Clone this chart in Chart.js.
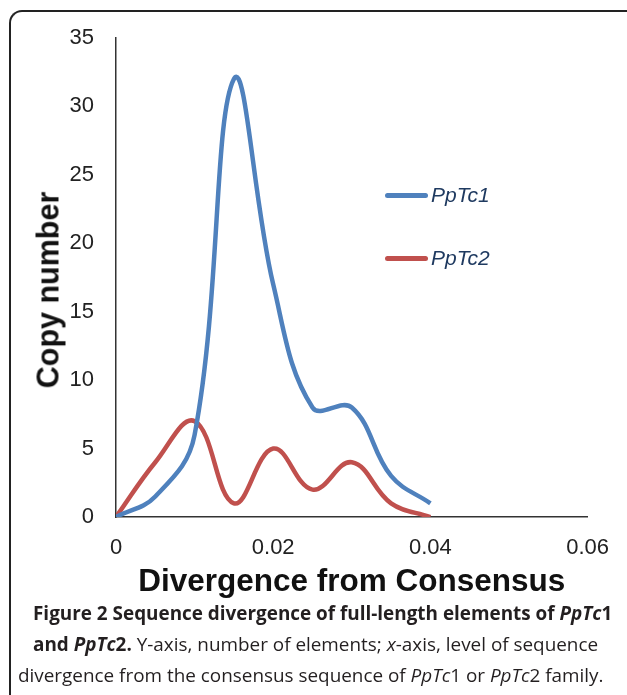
<!DOCTYPE html>
<html>
<head>
<meta charset="utf-8">
<script src="https://cdn.jsdelivr.net/npm/chart.js@4.4.1/dist/chart.umd.min.js"></script>
<style>
  html, body { margin: 0; padding: 0; background: #fff; }
  body { width: 627px; height: 695px; position: relative; overflow: hidden; }
  .frame {
    position: absolute; left: 9px; top: 10px; width: 700px; height: 720px;
    border-left: 2px solid #222; border-top: 2px solid #222;
    border-top-left-radius: 13px;
  }
  #chart { position: absolute; left: 0; top: 0; }
  .y-title {
    position: absolute; left: 48px; top: 290px; white-space: nowrap;
    transform: translate(-50%, -50%) rotate(-90deg);
    font: bold 30.5px "Liberation Sans", Arial, sans-serif; color: #111;
  }
  .legend-item { position: absolute; height: 24px; }
  .legend-item .swatch {
    position: absolute; left: 0; top: 10px; width: 43px; height: 5px; border-radius: 3px;
  }
  .legend-item .label {
    position: absolute; left: 46px; top: 0; line-height: 24px;
    font: italic 21px "Liberation Sans", Arial, sans-serif; color: #1f3a60; white-space: nowrap;
  }
  .caption {
    position: absolute; left: 0; top: 598px; width: 627px;
    font-family: "Open Sans", sans-serif; font-size: 18.9px; color: #231f20;
  }
  .caption div { position: absolute; white-space: nowrap; line-height: 31px; }
  .caption b { font-weight: 700; }
</style>
</head>
<body>
<div class="frame"></div>
<canvas id="chart" width="627" height="605"></canvas>
<div class="y-title">Copy number</div>
<div id="legend"></div>
<div class="caption">
  <div style="left:33px; top:0;"><b>Figure 2 Sequence divergence of full-length elements of <i>PpTc</i>1</b></div>
  <div style="left:33px; top:31px;"><b>and <i>PpTc</i>2.</b> Y-axis, number of elements; <i>x</i>-axis, level of sequence</div>
  <div style="left:18px; top:62px;">divergence from the consensus sequence of <i>PpTc</i>1 or <i>PpTc</i>2 family.</div>
</div>
<script>
// divergence bins (x) and copy numbers
const divergence = [0, 0.005, 0.01, 0.015, 0.02, 0.025, 0.03, 0.035, 0.04];
const pptc1 = [0, 1.5, 6, 32, 17, 8, 8, 3, 1];
const pptc2 = [0, 4, 7, 1, 5, 2, 4, 1, 0];
const seriesNames = ["PpTc1", "PpTc2"];
const seriesColors = ["#4f81bd", "#c0504d"];

const toPoints = (ys) => divergence.map((x, i) => ({ x, y: ys[i] }));

const tickFont = { family: "'Liberation Sans', Arial, sans-serif", size: 22 };
const titleFont = { family: "'Liberation Sans', Arial, sans-serif", size: 31.5, weight: "bold" };

const chart = new Chart(document.getElementById("chart"), {
  type: "line",
  data: {
    datasets: [pptc1, pptc2].map((ys, i) => ({
      label: seriesNames[i],
      data: toPoints(ys),
      borderColor: seriesColors[i],
      backgroundColor: seriesColors[i],
      borderWidth: 4.5,
      pointRadius: 0,
      tension: 0.4,
      fill: false,
    })),
  },
  options: {
    responsive: false,
    animation: false,
    layout: { padding: { left: 0, right: 37, top: 38, bottom: 0 } },
    plugins: { legend: { display: false }, tooltip: { enabled: false } },
    scales: {
      x: {
        type: "linear",
        min: 0,
        max: 0.06,
        grid: { display: false, drawTicks: false },
        border: { display: true, color: "#333", width: 1.5 },
        ticks: { stepSize: 0.02, color: "#222", font: tickFont, padding: 18, maxRotation: 0 },
        title: { display: true, text: "Divergence from Consensus", color: "#111", font: titleFont, padding: { top: 0, bottom: 4 } },
        afterFit: (scale) => { scale.height = 88; },
      },
      y: {
        min: 0,
        max: 35,
        grid: { display: false, drawTicks: false },
        border: { display: true, color: "#333", width: 1.5 },
        ticks: { stepSize: 5, color: "#222", font: tickFont, padding: 22 },
        afterFit: (scale) => { scale.width = 116; },
      },
    },
  },
});

// legend sits inside the plot, right of the peaks
const legend = document.getElementById("legend");
chart.data.datasets.forEach((ds, i) => {
  const item = document.createElement("div");
  item.className = "legend-item";
  item.style.left = "385px";
  item.style.top = (183 + i * 63) + "px";
  item.innerHTML = '<div class="swatch" style="background:' + ds.borderColor + '"></div>' +
    '<div class="label">' + ds.label + "</div>";
  legend.appendChild(item);
});
</script>
</body>
</html>
